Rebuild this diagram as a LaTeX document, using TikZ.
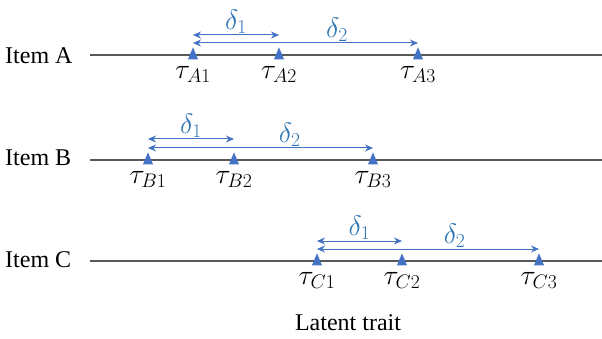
\documentclass[tikz,border=0pt]{standalone}
\usepackage{fix-cm}
\usepackage{fontspec}
\setmainfont{Liberation Serif}
\usetikzlibrary{positioning,shapes.geometric,arrows.meta}
\definecolor{axisgray}{HTML}{595959}
\definecolor{triblue}{HTML}{4472C4}
\definecolor{deltablue}{HTML}{2E75B6}

\begin{document}
\begin{tikzpicture}[x=1pt,y=-1pt,>={Stealth[length=8pt,width=7pt]},
  item node/.style={font=\fontsize{24}{28}\selectfont,inner sep=0,anchor=base west},
  tri node/.style={isosceles triangle,isosceles triangle stretches,shape border rotate=90,minimum width=10pt,minimum height=12pt,inner sep=0,fill=triblue},
  tau node/.style={font=\fontsize{28}{32}\selectfont,inner sep=0},
  axis line/.style={draw=axisgray,line width=1.3pt},
  delta arrow/.style={<->,draw=triblue,line width=1pt},
  delta node/.style={font=\fontsize{28}{32}\selectfont,text=deltablue,inner sep=1pt}]

    \useasboundingbox (0,0) rectangle (602,339);

    % Item A
    \node[item node] (iA) at (5,64) {Item A};
    \coordinate (sA) at (90,55);
    \coordinate (eA) at (602,55);
    \draw[axis line] (sA) -- (eA);
    \node[tri node] (tA1) at (193,56) {};
    \node[tri node] (tA2) at (279,56) {};
    \node[tri node] (tA3) at (418,56) {};
    \node[tau node] (lA1) [below=7pt of tA1] {$\tau_{A1}$};
    \node[tau node] (lA2) [below=7pt of tA2] {$\tau_{A2}$};
    \node[tau node] (lA3) [below=7pt of tA3] {$\tau_{A3}$};
    \draw[delta arrow] ([yshift=21pt]tA1.center) -- node[delta node, above] {$\delta_1$} ([yshift=21pt]tA2.center);
    \draw[delta arrow] ([yshift=13pt]tA1.center) -- node[delta node, above, pos=0.64] {$\delta_2$} ([yshift=13pt]tA3.center);

    % Item B
    \node[item node] (iB) at (5,166) {Item B};
    \coordinate (sB) at (90,160);
    \coordinate (eB) at (602,160);
    \draw[axis line] (sB) -- (eB);
    \node[tri node] (tB1) at (148,161) {};
    \node[tri node] (tB2) at (234,161) {};
    \node[tri node] (tB3) at (373,161) {};
    \node[tau node] (lB1) [below=7pt of tB1] {$\tau_{B1}$};
    \node[tau node] (lB2) [below=7pt of tB2] {$\tau_{B2}$};
    \node[tau node] (lB3) [below=7pt of tB3] {$\tau_{B3}$};
    \draw[delta arrow] ([yshift=22pt]tB1.center) -- node[delta node, above] {$\delta_1$} ([yshift=22pt]tB2.center);
    \draw[delta arrow] ([yshift=13pt]tB1.center) -- node[delta node, above, pos=0.63] {$\delta_2$} ([yshift=13pt]tB3.center);

    % Item C
    \node[item node] (iC) at (5,267) {Item C};
    \coordinate (sC) at (90,261);
    \coordinate (eC) at (602,261);
    \draw[axis line] (sC) -- (eC);
    \node[tri node] (tC1) at (317,262) {};
    \node[tri node] (tC2) at (402,262) {};
    \node[tri node] (tC3) at (539,262) {};
    \node[tau node] (lC1) [below=7pt of tC1] {$\tau_{C1}$};
    \node[tau node] (lC2) [below=7pt of tC2] {$\tau_{C2}$};
    \node[tau node] (lC3) [below=7pt of tC3] {$\tau_{C3}$};
    \draw[delta arrow] ([yshift=21pt]tC1.center) -- node[delta node, above] {$\delta_1$} ([yshift=21pt]tC2.center);
    \draw[delta arrow] ([yshift=13pt]tC1.center) -- node[delta node, above, pos=0.62] {$\delta_2$} ([yshift=13pt]tC3.center);

    \node[item node, anchor=base] (lt) at (348,330) {Latent trait};

\end{tikzpicture}
\end{document}
